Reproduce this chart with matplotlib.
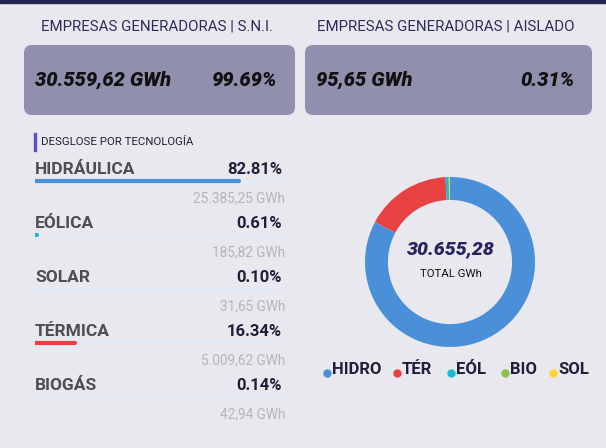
import matplotlib.pyplot as plt
from matplotlib.patches import FancyBboxPatch, Rectangle

plt.rcParams['font.family'] = ['Roboto', 'DejaVu Sans']

# Datos
tecnologias = ['HIDRÁULICA', 'EÓLICA', 'SOLAR', 'TÉRMICA', 'BIOGÁS']
porcentajes = [82.81, 0.61, 0.10, 16.34, 0.14]
energia_txt = ['25.385,25 GWh', '185,82 GWh', '31,65 GWh', '5.009,62 GWh', '42,94 GWh']
colores_tec = ['#4a90d9', '#17bcd6', '#fdd835', '#e84142', '#8bc34a']

dona_labels = ['HIDRO', 'TÉR', 'EÓL', 'BIO', 'SOL']
dona_gwh = [25385.25, 5009.62, 185.82, 42.94, 31.65]
dona_colores = ['#4a90d9', '#e84142', '#17bcd6', '#8bc34a', '#fdd835']

tarjetas = ['EMPRESAS GENERADORAS | S.N.I.', 'EMPRESAS GENERADORAS | AISLADO']
tarjeta_gwh = ['30.559,62 GWh', '95,65 GWh']
tarjeta_pct = ['99.69%', '0.31%']
total_txt = '30.655,28'

W, H = 606, 448
fondo = '#e9e8ef'
navy = '#2b2b5e'

fig = plt.figure(figsize=(W / 100, H / 100), dpi=100, facecolor=fondo)
ax = fig.add_axes([0, 0, 1, 1])
ax.set_xlim(0, W)
ax.set_ylim(H, 0)
ax.axis('off')

# franja superior
ax.add_patch(Rectangle((0, 0), W, 3, color='#23234f'))

# tarjetas
cajas = [(24, 45, 271, 70), (305, 45, 287, 70)]
titulo_x = [157, 446]
for i, (x0, y0, w, h) in enumerate(cajas):
    ax.add_patch(FancyBboxPatch((x0, y0), w, h, boxstyle='round,pad=0,rounding_size=8',
                                fc='#9090ae', ec='none'))
    ax.text(titulo_x[i], 27, tarjetas[i], ha='center', va='center', fontsize=10.8, color=navy)
    ax.text(x0 + 11, 80, tarjeta_gwh[i], ha='left', va='center', fontsize=14.5,
            fontweight='black', fontstyle='italic', color='#111111')
    ax.text(x0 + w - 18, 80, tarjeta_pct[i], ha='right', va='center', fontsize=14.5,
            fontweight='black', fontstyle='italic', color='#111111')

# seccion desglose
ax.add_patch(Rectangle((34, 133), 2, 18, color='#5b4fc4'))
ax.text(41, 142, 'DESGLOSE POR TECNOLOGÍA', ha='left', va='center', fontsize=8.2, color='#1f1f3a')

# barras
bx0, bx1 = 35, 281
axb = fig.add_axes([bx0 / W, 0, (bx1 - bx0) / W, 1])
axb.set_xlim(0, 100)
axb.set_ylim(H, 0)
axb.axis('off')
axb.patch.set_alpha(0)

for i, tec in enumerate(tecnologias):
    y_lab = 170 + 54 * i
    y_bar = y_lab + 11
    y_gwh = y_lab + 28
    ax.text(35, y_lab, tec, ha='left', va='center', fontsize=12.5, fontweight='bold',
            color='#4d4d55')
    ax.text(282, y_lab, f'{porcentajes[i]:.2f}%', ha='right', va='center', fontsize=12,
            fontweight='bold', color='#1f1f3a')
    axb.plot([0, 100], [y_bar, y_bar], color='#e3eaf5', lw=3, solid_capstyle='round')
    axb.plot([0, porcentajes[i]], [y_bar, y_bar], color=colores_tec[i], lw=3,
             solid_capstyle='round')
    ax.text(285, y_gwh, energia_txt[i], ha='right', va='center', fontsize=9.8,
            color='#b4b4bc')

# dona
cx, cy, r = 450, 262, 85
axd = fig.add_axes([(cx - r) / W, 1 - (cy + r) / H, 2 * r / W, 2 * r / H])
axd.pie(dona_gwh, colors=dona_colores, startangle=90, counterclock=False,
        wedgeprops=dict(width=0.27, linewidth=0))
axd.set_xlim(-1, 1)
axd.set_ylim(-1, 1)
axd.set_aspect('equal')
axd.patch.set_alpha(0)
ax.text(cx + 1, 249, total_txt, ha='center', va='center', fontsize=14, fontweight='black',
        fontstyle='italic', color='#27245e')
ax.text(cx + 1, 274, 'TOTAL GWh', ha='center', va='center', fontsize=8.2, color='#111111')

# leyenda
ley_x = [327, 397, 451, 505, 553]
for i, lab in enumerate(dona_labels):
    ax.plot(ley_x[i], 373, 'o', ms=5, color=dona_colores[i])
    ax.text(ley_x[i] + 5, 370, lab, ha='left', va='center', fontsize=12, fontweight='bold',
            color='#1f1f3a')

fig.savefig('out.png', dpi=100, facecolor=fondo)
